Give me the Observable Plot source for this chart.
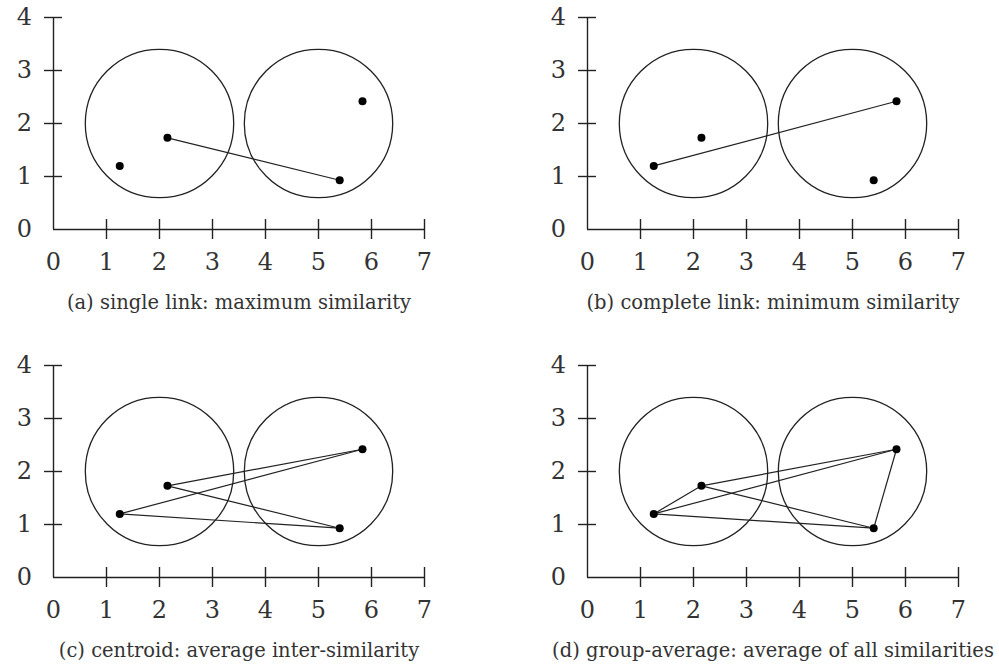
<!DOCTYPE html>
<html>
<head>
<meta charset="utf-8">
<script src="https://cdn.jsdelivr.net/npm/d3@7"></script>
<script src="https://cdn.jsdelivr.net/npm/@observablehq/plot@0.6"></script>
<style>
  html, body { margin: 0; padding: 0; background: #fff; overflow: hidden; }
  #wrap { position: relative; width: 999px; height: 667px; }
  .panel { position: absolute; }
</style>
</head>
<body>
<div id="wrap"></div>
<script>
// ---- data ----
const xTicks = [0, 1, 2, 3, 4, 5, 6, 7];
const yTicks = [0, 1, 2, 3, 4];
const clusterX = [2, 5];
const clusterY = [2, 2];
const clusterRadius = [1.4, 1.4];
const pointX = [1.25, 2.15, 5.4, 5.83];
const pointY = [1.2, 1.73, 0.93, 2.42];
const linksA = [[1, 2]];
const linksB = [[0, 3]];
const linksC = [[1, 3], [1, 2], [0, 3], [0, 2]];
const linksD = [[1, 3], [1, 2], [0, 3], [0, 2], [0, 1], [2, 3]];
const captions = [
  "(a) single link: maximum similarity",
  "(b) complete link: minimum similarity",
  "(c) centroid: average inter-similarity",
  "(d) group-average: average of all similarities"
];

// ---- layout ----
const panelPos = [[0, 0], [533.7, 0], [0, 347.7], [533.7, 347.7]];
const panelLinks = [linksA, linksB, linksC, linksD];
const INK = "#222";
const TXT = "#333";
const FONT = "'DejaVu Serif', 'Liberation Serif', serif";

const clusters = clusterX.map((x, i) => ({x, y: clusterY[i], r: clusterRadius[i]}));
const points = pointX.map((x, i) => ({x, y: pointY[i]}));
const xMin = xTicks[0], xMax = xTicks[xTicks.length - 1];
const yMin = yTicks[0], yMax = yTicks[yTicks.length - 1];

function panel(links, caption) {
  return Plot.plot({
    width: 465,
    height: 320,
    marginLeft: 53,
    marginRight: 41,
    marginTop: 17,
    marginBottom: 91,
    x: {domain: [xMin, xMax], axis: null},
    y: {domain: [yMin, yMax], axis: null},
    r: {type: "linear", domain: [0, 1], range: [0, 53]},
    style: {fontFamily: FONT, background: "#fff", overflow: "visible"},
    marks: [
      // axes
      Plot.ruleY([yMin], {x1: xMin, x2: xMax, stroke: INK, strokeWidth: 1.4}),
      Plot.ruleX([xMin], {y1: yMin, y2: yMax, stroke: INK, strokeWidth: 1.4}),
      // crossing ticks
      Plot.ruleX(xTicks.slice(1), {x: d => d, y1: yMin, y2: yMin, insetTop: -10, insetBottom: -10, stroke: INK, strokeWidth: 1.4}),
      Plot.ruleY(yTicks.slice(1), {y: d => d, x1: xMin, x2: xMin, insetLeft: -9, insetRight: -9, stroke: INK, strokeWidth: 1.4}),
      // tick labels
      Plot.text(xTicks, {x: d => d, y: yMin, dy: 33, text: d => String(d), fontSize: 24, fill: TXT}),
      Plot.text(yTicks, {x: xMin, y: d => d, dx: -29, text: d => String(d), fontSize: 24, fill: TXT}),
      // clusters
      Plot.dot(clusters, {x: "x", y: "y", r: "r", stroke: INK, strokeWidth: 1.3, fill: "none"}),
      // links
      Plot.link(links, {
        x1: d => pointX[d[0]], y1: d => pointY[d[0]],
        x2: d => pointX[d[1]], y2: d => pointY[d[1]],
        stroke: INK, strokeWidth: 1.2
      }),
      // points
      Plot.dot(points, {x: "x", y: "y", r: 4, fill: "#000"}),
      // caption
      Plot.text([caption], {frameAnchor: "bottom", dy: 79, text: d => d, fontSize: 19.5, fill: TXT})
    ]
  });
}

const wrap = document.getElementById("wrap");
captions.forEach((c, i) => {
  const svg = panel(panelLinks[i], c);
  svg.classList.add("panel");
  svg.style.left = panelPos[i][0] + "px";
  svg.style.top = panelPos[i][1] + "px";
  svg.style.position = "absolute";
  wrap.appendChild(svg);
});
</script>
</body>
</html>
